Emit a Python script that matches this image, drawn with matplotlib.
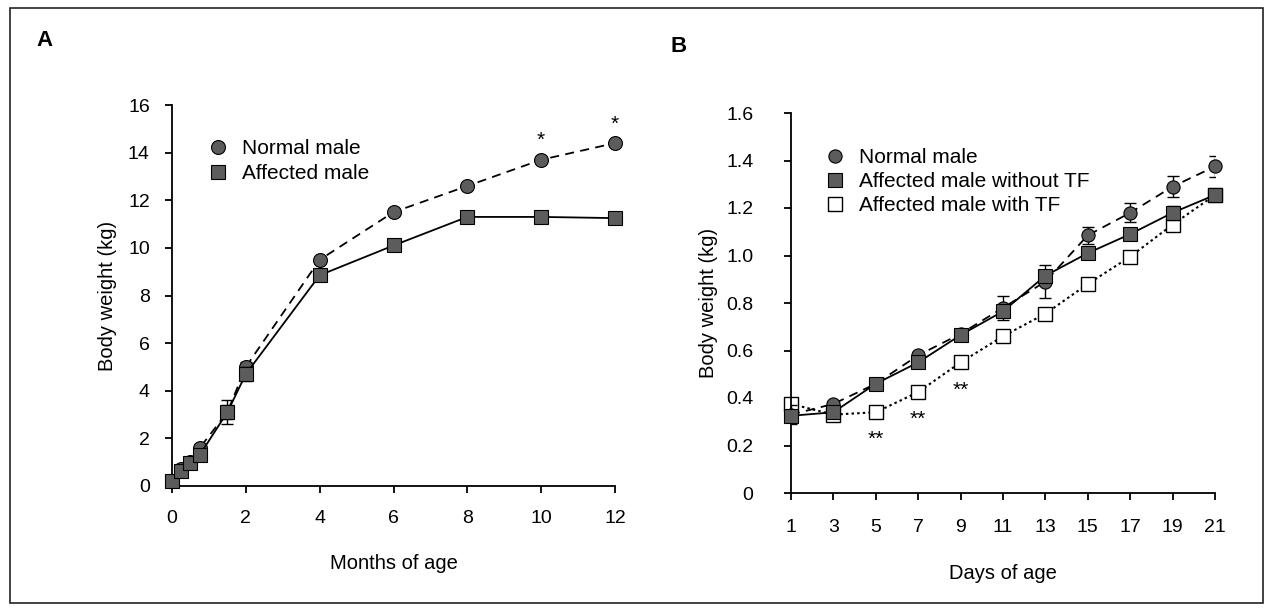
import matplotlib
matplotlib.use("Agg")
import matplotlib.pyplot as plt
from matplotlib.lines import Line2D
from matplotlib.patches import Rectangle

plt.rcParams['font.family'] = ['Liberation Sans', 'DejaVu Sans']

# ---------------- Panel A data (months) ----------------
months = [0, 0.25, 0.5, 0.75, 1.5, 2, 4, 6, 8, 10, 12]
a_normal = [0.2, 0.7, 1.0, 1.6, 3.1, 5.0, 9.5, 11.5, 12.6, 13.7, 14.4]
a_normal_err = [0.05, 0.1, 0.1, 0.15, 0.5, 0.2, 0.1, 0.1, 0.1, 0.1, 0.1]
a_affected = [0.2, 0.65, 0.95, 1.3, 3.1, 4.7, 8.85, 10.1, 11.3, 11.3, 11.25]
a_affected_err = [0.05, 0.1, 0.1, 0.1, 0.3, 0.3, 0.1, 0.1, 0.1, 0.1, 0.1]
a_star_months = [10, 12]
a_xticks = [0, 2, 4, 6, 8, 10, 12]
a_yticks = [0, 2, 4, 6, 8, 10, 12, 14, 16]

# ---------------- Panel B data (days) ----------------
days = [1, 3, 5, 7, 9, 11, 13, 15, 17, 19, 21]
b_normal = [0.33, 0.375, 0.46, 0.58, 0.67, 0.78, 0.89, 1.085, 1.18, 1.29, 1.375]
b_normal_err = [0.04, 0.01, 0.01, 0.015, 0.01, 0.05, 0.07, 0.035, 0.04, 0.045, 0.045]
b_without = [0.325, 0.34, 0.46, 0.55, 0.665, 0.765, 0.915, 1.01, 1.09, 1.18, 1.255]
b_without_err = [0.01, 0.01, 0.01, 0.01, 0.01, 0.01, 0.02, 0.01, 0.01, 0.03, 0.01]
b_with = [0.375, 0.33, 0.34, 0.425, 0.55, 0.66, 0.755, 0.88, 0.995, 1.13, 1.255]
b_star_days = [5, 7, 9]
b_xticks = days
b_yticks = [0, 0.2, 0.4, 0.6, 0.8, 1.0, 1.2, 1.4, 1.6]
b_yticklabels = ['0', '0.2', '0.4', '0.6', '0.8', '1.0', '1.2', '1.4', '1.6']

FILL = '#5c5c5c'
W, H = 1273, 610
fig = plt.figure(figsize=(W / 100, H / 100), dpi=100)

def fx(px):
    return px / W

def fy(py):
    return 1 - py / H

# outer frame
fig.patches.append(Rectangle((fx(10), fy(603)), fx(1263) - fx(10), fy(8) - fy(603),
                             transform=fig.transFigure, fill=False,
                             edgecolor='#222222', linewidth=1.2))

axA = fig.add_axes([fx(172), fy(486), fx(615) - fx(172), fy(105) - fy(486)])
axB = fig.add_axes([fx(791), fy(493), fx(1215) - fx(791), fy(113) - fy(493)])

def style(ax, pad):
    for s in ['top', 'right']:
        ax.spines[s].set_visible(False)
    for s in ['left', 'bottom']:
        ax.spines[s].set_linewidth(1.3)
    ax.tick_params(direction='out', length=5, width=1.3, labelsize=14, pad=pad)

# ---- Panel A ----
axA.errorbar(months, a_normal, yerr=a_normal_err, fmt='none', ecolor='black',
             elinewidth=1, capsize=4, zorder=2)
axA.plot(months, a_normal, linestyle=(0, (5, 3.5)), color='black', linewidth=1.3,
         marker='o', markersize=10, markerfacecolor=FILL, markeredgecolor='black',
         markeredgewidth=0.8, clip_on=False, zorder=3)
axA.errorbar(months, a_affected, yerr=a_affected_err, fmt='none', ecolor='black',
             elinewidth=1, capsize=4, zorder=4)
axA.plot(months, a_affected, linestyle='-', color='black', linewidth=1.3,
         marker='s', markersize=10.5, markerfacecolor=FILL, markeredgecolor='black',
         markeredgewidth=0.8, clip_on=False, zorder=5)
for m in a_star_months:
    v = a_normal[months.index(m)]
    axA.annotate('*', xy=(m, v), xytext=(0, 7), textcoords='offset points',
                 ha='center', va='bottom', fontsize=15)
axA.set_xlim(0, 12)
axA.set_ylim(0, 16)
axA.set_xticks(a_xticks)
axA.set_yticks(a_yticks)
style(axA, 12)
axA.tick_params(axis='y', pad=11)
axA.set_xlabel('Months of age', fontsize=14.5, labelpad=20)
axA.set_ylabel('Body weight (kg)', fontsize=14.5, labelpad=8)

hA = [Line2D([], [], linestyle='none', marker='o', markersize=10,
             markerfacecolor=FILL, markeredgecolor='black', markeredgewidth=0.8),
      Line2D([], [], linestyle='none', marker='s', markersize=10.5,
             markerfacecolor=FILL, markeredgecolor='black', markeredgewidth=0.8)]
axA.legend(hA, ['Normal male', 'Affected male'], loc='upper left',
           bbox_to_anchor=(fx(208), fy(139)), bbox_transform=fig.transFigure,
           frameon=False, fontsize=15, handlelength=1.0, handletextpad=0.65,
           labelspacing=0.28, borderpad=0, borderaxespad=0)

# ---- Panel B ----
axB.plot(days, b_with, linestyle=(0, (1.2, 1.5)), color='black', linewidth=1.5,
         marker='s', markersize=9.5, markerfacecolor='white', markeredgecolor='black',
         markeredgewidth=1.0, clip_on=False, zorder=2)
axB.errorbar(days, b_normal, yerr=b_normal_err, fmt='none', ecolor='black',
             elinewidth=1, capsize=4, zorder=3)
axB.plot(days, b_normal, linestyle=(0, (5, 3.5)), color='black', linewidth=1.3,
         marker='o', markersize=9.5, markerfacecolor=FILL, markeredgecolor='black',
         markeredgewidth=0.8, clip_on=False, zorder=4)
axB.errorbar(days, b_without, yerr=b_without_err, fmt='none', ecolor='black',
             elinewidth=1, capsize=4, zorder=5)
axB.plot(days, b_without, linestyle='-', color='black', linewidth=1.3,
         marker='s', markersize=9.5, markerfacecolor=FILL, markeredgecolor='black',
         markeredgewidth=0.8, clip_on=False, zorder=6)
for d in b_star_days:
    v = b_with[days.index(d)]
    axB.annotate('**', xy=(d, v), xytext=(0, -13), textcoords='offset points',
                 ha='center', va='top', fontsize=15)
axB.set_xlim(1, 21)
axB.set_ylim(0, 1.6)
axB.set_xticks(b_xticks)
axB.set_yticks(b_yticks)
axB.set_yticklabels(b_yticklabels)
style(axB, 14)
axB.tick_params(axis='y', pad=22)
axB.set_xlabel('Days of age', fontsize=14.5, labelpad=20)
axB.set_ylabel('Body weight (kg)', fontsize=14.5, labelpad=6)

hB = [Line2D([], [], linestyle='none', marker='o', markersize=9.5,
             markerfacecolor=FILL, markeredgecolor='black', markeredgewidth=0.8),
      Line2D([], [], linestyle='none', marker='s', markersize=9.5,
             markerfacecolor=FILL, markeredgecolor='black', markeredgewidth=0.8),
      Line2D([], [], linestyle='none', marker='s', markersize=9.5,
             markerfacecolor='white', markeredgecolor='black', markeredgewidth=1.0)]
axB.legend(hB, ['Normal male', 'Affected male without TF', 'Affected male with TF'],
           loc='upper left', bbox_to_anchor=(fx(825), fy(148)),
           bbox_transform=fig.transFigure, frameon=False, fontsize=15,
           handlelength=1.0, handletextpad=0.65, labelspacing=0.25,
           borderpad=0, borderaxespad=0)

fig.text(fx(36), fy(41), 'A', fontsize=16, fontweight='bold', ha='left', va='center')
fig.text(fx(670), fy(46), 'B', fontsize=16, fontweight='bold', ha='left', va='center')

fig.savefig('out.png', dpi=100)
